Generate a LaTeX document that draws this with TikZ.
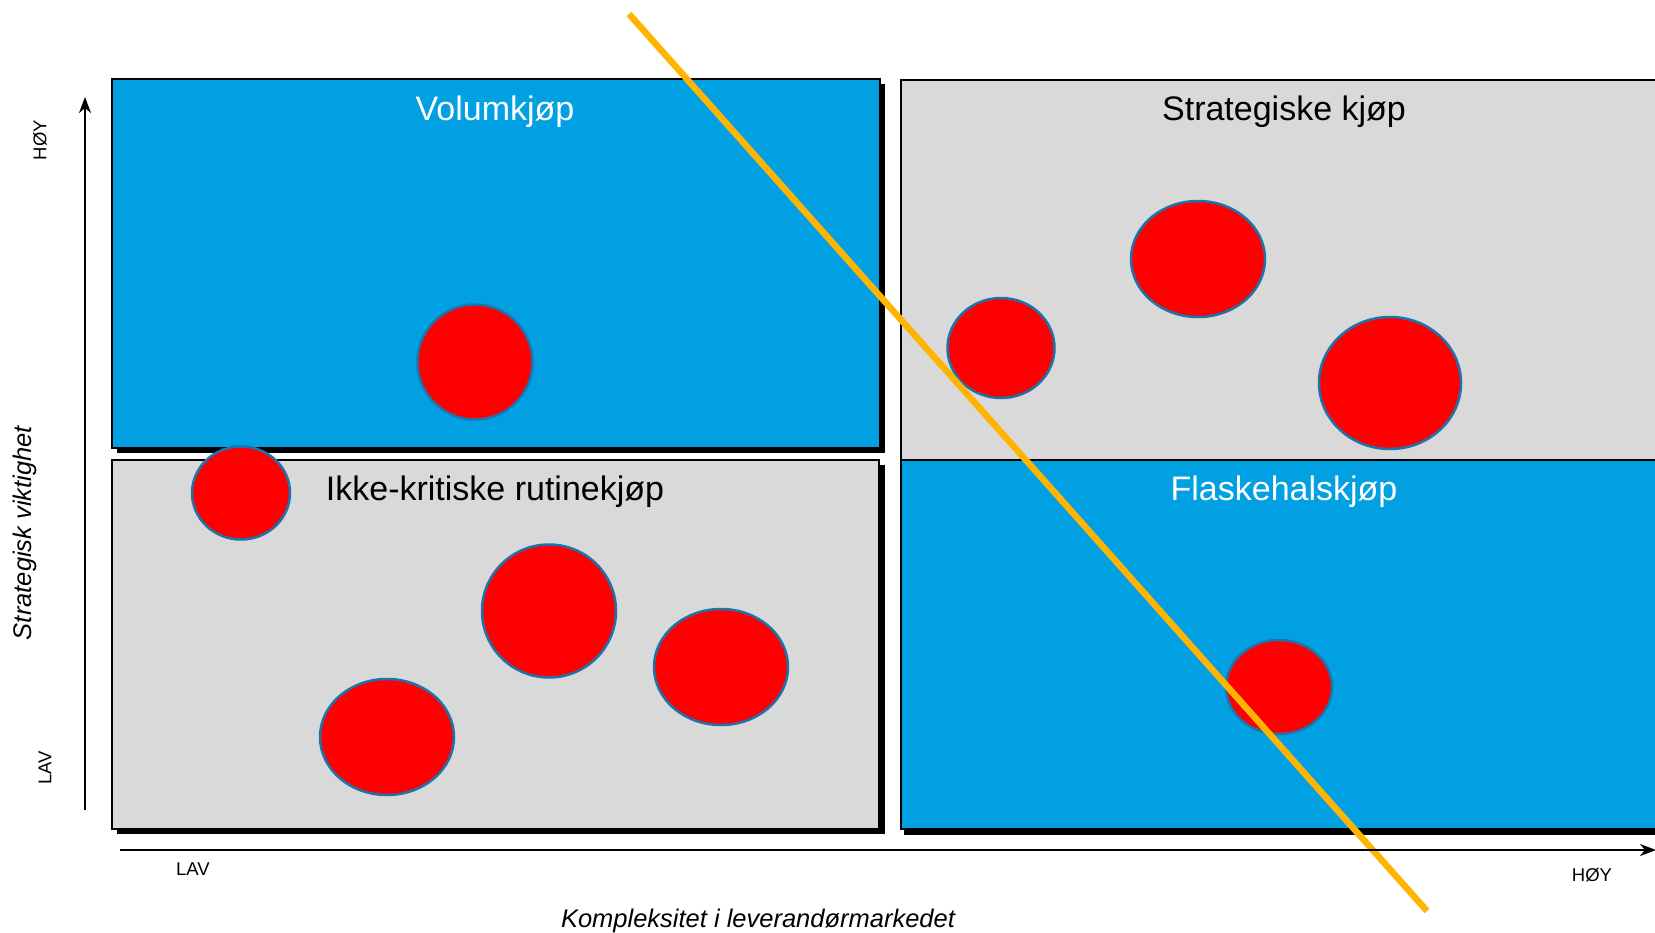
\documentclass[tikz,border=0pt]{standalone}
\usepackage{fontspec}
\setmainfont{Liberation Sans}
\usetikzlibrary{arrows.meta,shapes.geometric}
\definecolor{qblue}{RGB}{0,160,227}
\definecolor{qgray}{RGB}{217,217,217}
\definecolor{dotedge}{RGB}{30,115,170}
\definecolor{lineorange}{RGB}{255,180,0}
\tikzset{
  quad/.style={draw=black,line width=1.8pt,rectangle,inner sep=0pt,anchor=north west},
  shadowbox/.style={fill=black,draw=none,rectangle,inner sep=0pt,anchor=north west},
  dot/.style={ellipse,fill=red,draw=dotedge,line width=2.5pt,inner sep=0pt},
  title/.style={font=\fontsize{34}{40}\selectfont,inner sep=0pt},
  small/.style={font=\fontsize{18.5}{22}\selectfont,inner sep=0pt},
  axislabel/.style={font=\fontsize{25.5}{30}\selectfont\itshape,inner sep=0pt},
  axis/.style={line width=2pt,-{Stealth[length=16pt,width=12pt,inset=5pt]}},
}
\begin{document}
\begin{tikzpicture}[x=1pt,y=-1pt]
\clip (0,0) rectangle (1655,932);
\fill[white] (0,0) rectangle (1655,932);
% shadows
\node[shadowbox,minimum width=768pt,minimum height=369pt] (s1) at (117,84) {};
\node[shadowbox,minimum width=768pt,minimum height=369pt] (s2) at (117,465) {};
\node[shadowbox,minimum width=800pt,minimum height=370pt] (s4) at (904,465) {};
% quadrants
\node[quad,fill=qblue,minimum width=768pt,minimum height=369pt] (vol) at (111,78) {};
\node[quad,fill=qgray,minimum width=767pt,minimum height=369pt] (ikke) at (111,459) {};
\node[quad,fill=qgray,minimum width=800pt,minimum height=380pt] (strat) at (900,79) {};
\node[quad,fill=qblue,minimum width=800pt,minimum height=369pt] (flask) at (900,459) {};
% titles
\node[title,text=white] (tvol) at (495,112) {Volumkjøp};
\node[title] (tstrat) at (1284,112) {Strategiske kjøp};
\node[title] (tikke) at (495,492) {Ikke-kritiske rutinekjøp};
\node[title,text=white] (tflask) at (1284,492) {Flaskehalskjøp};
% dots
\node[dot,minimum width=115pt,minimum height=115pt] (d1) at (475,362) {};
\node[dot,minimum width=107pt,minimum height=100pt] (d2) at (1001,348) {};
\node[dot,minimum width=134pt,minimum height=116pt] (d3) at (1198,259) {};
\node[dot,minimum width=142pt,minimum height=132pt] (d4) at (1390,383) {};
\node[dot,minimum width=98pt,minimum height=93pt] (d5) at (241,493) {};
\node[dot,minimum width=134pt,minimum height=133pt] (d6) at (549,611) {};
\node[dot,minimum width=134pt,minimum height=116pt] (d7) at (721,667) {};
\node[dot,minimum width=134pt,minimum height=116pt] (d8) at (387,737) {};
\node[dot,minimum width=106pt,minimum height=94pt] (d9) at (1279,687) {};
% diagonal line
\coordinate (lt) at (629,14);
\coordinate (lb) at (1427,911);
\draw[lineorange,line width=6.5pt] (lt) -- (lb);
% axes
\coordinate (yb) at (85,810);
\coordinate (yt) at (85,97);
\coordinate (xl) at (120,850);
\coordinate (xr) at (1656,850);
\draw[axis] (yb) -- (yt);
\draw[axis] (xl) -- (xr);
% axis labels
\node[small,rotate=90] (yhoy) at (40,140) {HØY};
\node[small,rotate=90] (ylav) at (45,768) {LAV};
\node[small] (xlav) at (193,869) {LAV};
\node[small] (xhoy) at (1592,875) {HØY};
\node[axislabel,rotate=90] (ylab) at (25,533) {Strategisk viktighet};
\node[axislabel] (xlab) at (758,921) {Kompleksitet i leverandørmarkedet};
\end{tikzpicture}
\end{document}
